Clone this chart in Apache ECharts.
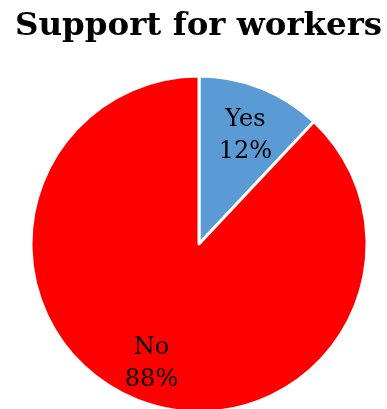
<!DOCTYPE html>
<html>
<head>
<meta charset="utf-8">
<script src="https://cdn.jsdelivr.net/npm/echarts@6/dist/echarts.min.js"></script>
<style>
  html, body { margin: 0; padding: 0; background: #ffffff; }
  #chart { width: 387px; height: 409px; }
</style>
</head>
<body>
<div id="chart"></div>
<script>
// Survey answers and their shares (percent)
const categories = ['Yes', 'No'];
const shares = [12, 88];
const sliceColors = ['#5B9BD5', '#FF0000'];

const chart = echarts.init(document.getElementById('chart'), null, { renderer: 'canvas' });

const sliceData = categories.map((name, i) => ({
  name: name,
  value: shares[i],
  itemStyle: { color: sliceColors[i] }
}));

const labelFont = {
  fontFamily: 'DejaVu Serif',
  fontSize: 24,
  color: '#000000',
  lineHeight: 32
};

chart.setOption({
  animation: false,
  title: {
    text: 'Support for workers',
    left: 10,
    top: 5,
    padding: [5, 5],
    textStyle: {
      fontFamily: 'DejaVu Serif',
      fontWeight: 'bold',
      fontSize: 32.5,
      color: '#000000'
    }
  },
  series: [
    {
      // The slices themselves
      type: 'pie',
      center: [199, 244],
      radius: [0, 168],
      startAngle: 90,
      clockwise: true,
      silent: true,
      label: { show: false },
      labelLine: { show: false },
      itemStyle: { borderColor: '#ffffff', borderWidth: 3 },
      data: sliceData
    },
    {
      // Transparent ring carrying the in-slice labels
      type: 'pie',
      center: [199, 244],
      radius: [84, 168],
      startAngle: 90,
      clockwise: true,
      silent: true,
      itemStyle: { color: 'rgba(0,0,0,0)', borderWidth: 0 },
      label: Object.assign({
        show: true,
        position: 'inside',
        formatter: p => p.name + '\n' + p.value + '%'
      }, labelFont),
      // the narrow slice keeps its label a little closer to the centre
      labelLayout: p => (p.dataIndex === 0 ? { dy: 12, dx: -1 } : {}),
      labelLine: { show: false },
      data: categories.map((name, i) => ({ name: name, value: shares[i] }))
    }
  ]
});
</script>
</body>
</html>
